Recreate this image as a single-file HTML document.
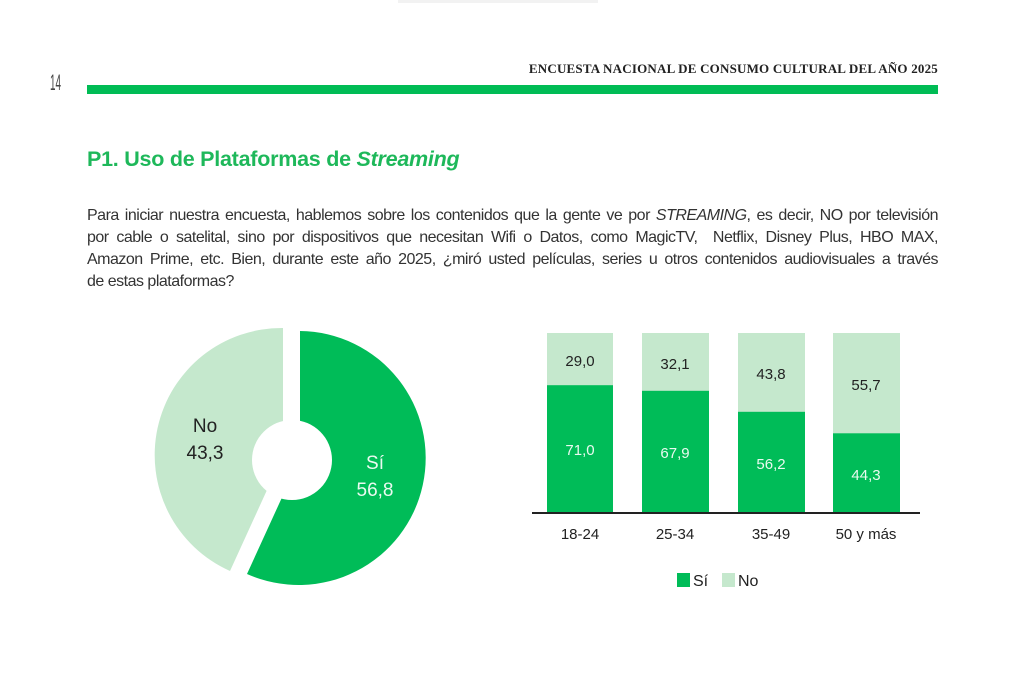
<!DOCTYPE html>
<html><head><meta charset="utf-8"><style>
body{margin:0;width:1024px;height:674px;background:#fff;position:relative;overflow:hidden;font-family:"Liberation Sans",Arial,sans-serif;color:#333}
.abs{position:absolute}
.hdr{right:86px;top:61px;font-family:"Liberation Serif",serif;font-size:13px;font-weight:bold;letter-spacing:0.2px;color:#222;transform:scaleX(1.0);transform-origin:right;white-space:nowrap}
.bar{left:87px;top:85px;width:851px;height:9px;background:#00bc55}
.pg{left:50px;top:70px;font-size:22px;color:#444;transform:scaleX(0.45);transform-origin:left}
.title{left:87px;top:147px;font-size:21.5px;font-weight:bold;color:#1eb85a;letter-spacing:-0.25px}
.body{left:87px;top:205px;width:851px;font-size:16px;line-height:22px;color:#333;letter-spacing:-0.5px}
.body div{text-align:justify;text-align-last:justify;white-space:nowrap}
.body div.last{text-align-last:left}
</style></head><body>
<div class="abs" style="left:398px;top:0;width:200px;height:3px;background:#f2f2f2"></div>
<div class="abs pg">14</div>
<div class="abs hdr">ENCUESTA NACIONAL DE CONSUMO CULTURAL DEL AÑO 2025</div>
<div class="abs bar"></div>
<div class="abs title">P1. Uso de Plataformas de <i>Streaming</i></div>
<div class="abs body">
<div>Para iniciar nuestra encuesta, hablemos sobre los contenidos que la gente ve por <i>STREAMING</i>, es decir, NO por televisión</div>
<div>por cable o satelital, sino por dispositivos que necesitan Wifi o Datos, como MagicTV,&nbsp; Netflix, Disney Plus, HBO MAX,</div>
<div>Amazon Prime, etc. Bien, durante este año 2025, ¿miró usted películas, series u otros contenidos audiovisuales a través</div>
<div class="last">de estas plataformas?</div>
</div>
<svg class="abs" style="left:0;top:0" width="1024" height="674" font-family="Liberation Sans, Arial, sans-serif">
<path d="M300,458 L300,331 A127,127 0 1 1 247,574 Z" fill="#00bc58"/>
<path d="M283,455 L230,571 A127,127 0 0 1 283,328 Z" fill="#c5e8cd"/>
<circle cx="292" cy="460" r="40" fill="#fff"/>
<text x="205" y="432" font-size="19" text-anchor="middle" fill="#222">No</text>
<text x="205" y="459" font-size="19" text-anchor="middle" fill="#222">43,3</text>
<text x="375" y="469" font-size="19" text-anchor="middle" fill="#eafaf0">Sí</text>
<text x="375" y="496" font-size="19" text-anchor="middle" fill="#eafaf0">56,8</text>
<g>
<rect x="547" y="333" width="66" height="180" fill="#c5e8cd"/><rect x="547" y="385.2" width="66" height="127.8" fill="#00bc58"/>
<rect x="642" y="333" width="67" height="180" fill="#c5e8cd"/><rect x="642" y="390.8" width="67" height="122.2" fill="#00bc58"/>
<rect x="738" y="333" width="67" height="180" fill="#c5e8cd"/><rect x="738" y="411.8" width="67" height="101.2" fill="#00bc58"/>
<rect x="833" y="333" width="67" height="180" fill="#c5e8cd"/><rect x="833" y="433.3" width="67" height="79.7" fill="#00bc58"/>
<line x1="532" y1="513" x2="920" y2="513" stroke="#222" stroke-width="2"/>
</g>
<g font-size="15" text-anchor="middle" fill="#222">
<text x="580" y="366">29,0</text><text x="675" y="369">32,1</text><text x="771" y="379">43,8</text><text x="866" y="390">55,7</text>
</g>
<g font-size="15" text-anchor="middle" fill="#eafaf0">
<text x="580" y="455">71,0</text><text x="675" y="458">67,9</text><text x="771" y="469">56,2</text><text x="866" y="480">44,3</text>
</g>
<g font-size="15" text-anchor="middle" fill="#222">
<text x="580" y="539">18-24</text><text x="675" y="539">25-34</text><text x="771" y="539">35-49</text><text x="866" y="539">50 y más</text>
</g>
<rect x="677" y="573" width="13" height="14" fill="#00bc58"/>
<text x="693" y="586" font-size="16" fill="#222">Sí</text>
<rect x="722" y="573" width="13" height="14" fill="#c5e8cd"/>
<text x="738" y="586" font-size="16" fill="#222">No</text>
</svg>
</body></html>
